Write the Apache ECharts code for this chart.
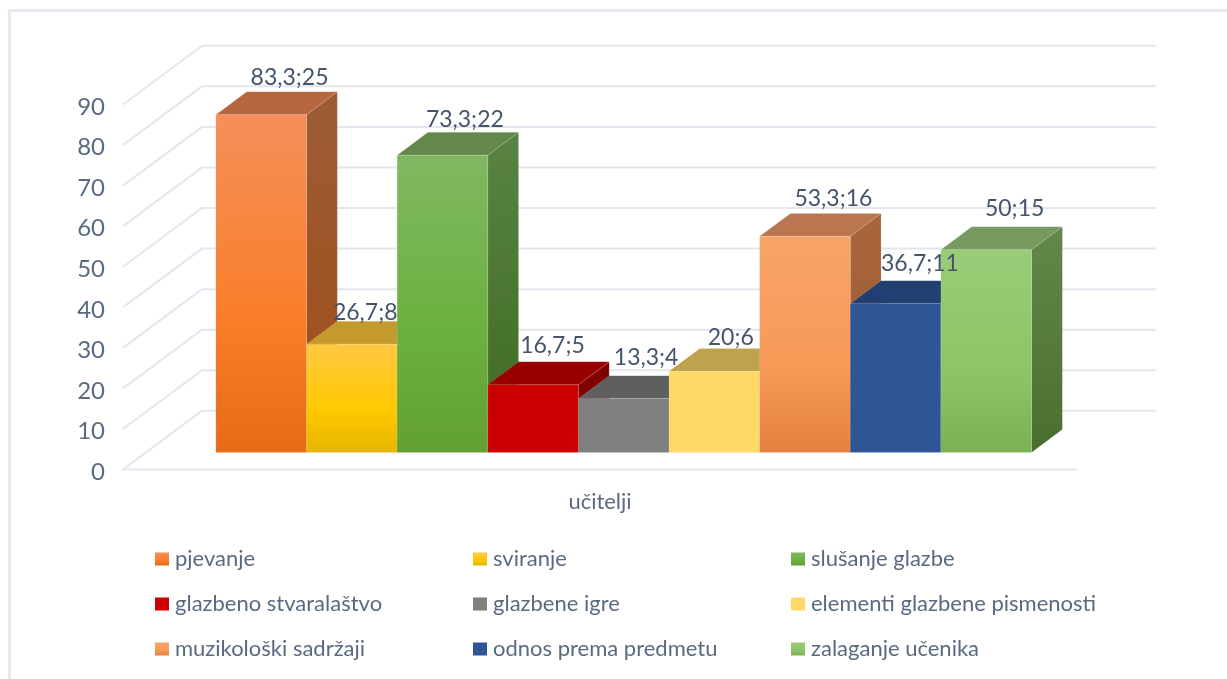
<!DOCTYPE html>
<html>
<head>
<meta charset="utf-8">
<style>html,body{margin:0;padding:0;background:#fff}#c{width:1227px;height:679px}</style>
<script src="https://cdn.jsdelivr.net/npm/echarts@6/dist/echarts.min.js"></script>
</head>
<body>
<div id="c"></div>
<script>
var categories = ['učitelji'];
var seriesNames = ['pjevanje','sviranje','slušanje glazbe','glazbeno stvaralaštvo','glazbene igre','elementi glazbene pismenosti','muzikološki sadržaji','odnos prema predmetu','zalaganje učenika'];
var percents = [83.3,26.7,73.3,16.7,13.3,20,53.3,36.7,50];
var counts = [25,8,22,5,4,6,16,11,15];
var yTicks = [0,10,20,30,40,50,60,70,80,90];

var frontStops = [
  ['#F58F5A','#F97E2A','#E56B17'],
  ['#FFC844','#FFC800','#E6B500'],
  ['#80B862','#6BB03E','#62A032'],
  ['#CC0000','#CC0000','#CC0000'],
  ['#7F7F7F','#7F7F7F','#7F7F7F'],
  ['#FFD966','#FFD966','#FFD966'],
  ['#F7A468','#F79A58','#E38040'],
  ['#2F5597','#2F5597','#2F5597'],
  ['#99CC78','#8DC565','#7CB052']
];
var topColors = ['#B5683F','#C49A2E','#64884B','#990000','#5F5F5F','#BFA24C','#BA7650','#223F72','#769A60'];
var sideStops = [
  ['#9C5C36','#A04E18'],['#A07A10','#8F7000'],['#5A8343','#3E6A20'],['#800000','#800000'],
  ['#5F5F5F','#5F5F5F'],['#BFA24C','#BFA24C'],['#A8653C','#A05A2C'],['#223F72','#223F72'],['#62884A','#4A6E2E']
];
var labelShift = [[6,0],[-9,6],[0,2],[-3,-2],[0,-4],[-6,4],[6,0],[2,-3],[6,-4]];

var DEPTH_X = 79, DEPTH_Y = 58.7;
var BAR_FRONT_X = 0.30, BAR_FRONT_Y = 0.29, BAR_DEPTH = 0.39, BAR_SHARE = 0.095;
var FONT = 'Lato, Carlito, sans-serif';

function vgrad(c){
  return new echarts.graphic.LinearGradient(0,0,0,1,[
    {offset:0,color:c[0]},{offset:0.6,color:c[1]},{offset:1,color:c[c.length-1]}
  ]);
}
function vgrad2(c){
  return new echarts.graphic.LinearGradient(0,0,0,1,[{offset:0,color:c[0]},{offset:1,color:c[1]}]);
}

function renderWall(params, api){
  var v = api.value(0);
  var band = api.size([1,0])[0];
  var p = api.coord([0,v]);
  var left = p[0]-band/2, right = p[0]+band/2, y = p[1];
  var pts = [[left,y],[left+DEPTH_X,y-DEPTH_Y],[right+DEPTH_X,y-DEPTH_Y]];
  if (v === 0) pts.unshift([right,y]);
  return {type:'polyline',shape:{points:pts},style:{stroke:'#E3E6EE',lineWidth:2,fill:'none'},silent:true};
}

function renderBar(params, api){
  var i = params.seriesIndex - 1;
  var band = api.size([1,0])[0];
  var w = band*BAR_SHARE;
  var base = api.coord([0,0]);
  var topP = api.coord([0,api.value(1)]);
  var ox = DEPTH_X*BAR_FRONT_X, oy = DEPTH_Y*BAR_FRONT_Y;
  var dx = DEPTH_X*BAR_DEPTH, dy = DEPTH_Y*BAR_DEPTH;
  var x0 = base[0]+ox + (i-4.5)*w, x1 = x0+w;
  var yB = base[1]-oy, yT = topP[1]-oy;
  var edge = 'rgba(255,255,255,0.12)';
  var z = i*2+1;
  return {type:'group',children:[
    {type:'polygon',z2:z,shape:{points:[[x1,yT],[x1+dx,yT-dy],[x1+dx,yB-dy],[x1,yB]]},
      style:{fill:vgrad2(sideStops[i]),stroke:edge,lineWidth:1}},
    {type:'polygon',z2:z,shape:{points:[[x0,yT],[x0+dx,yT-dy],[x1+dx,yT-dy],[x1,yT]]},
      style:{fill:topColors[i],stroke:edge,lineWidth:1}},
    {type:'rect',z2:z+1,shape:{x:x0,y:yT,width:w,height:yB-yT},
      style:{fill:vgrad(frontStops[i]),stroke:edge,lineWidth:1}},
    {type:'text',z2:100,style:{
      text:String(api.value(1)).replace('.',',')+';'+api.value(2),
      x:(x0+x1)/2+dx/2+7+labelShift[i][0],y:yT-dy-3+labelShift[i][1],
      align:'center',verticalAlign:'bottom',
      font:'23px '+FONT,fill:'#44546A'}}
  ]};
}

var series = [{
  type:'custom',name:'_walls',z:1,silent:true,renderItem:renderWall,
  data:yTicks.map(function(t){return [t];}),encode:{y:0}
}];
seriesNames.forEach(function(n,i){
  series.push({
    type:'custom',name:n,z:2,renderItem:renderBar,
    itemStyle:{color:vgrad(frontStops[i])},
    data:[[0,percents[i],counts[i]]],encode:{x:0,y:1}
  });
});

function legendCol(left, idx){
  return {
    orient:'vertical',left:left,top:548,itemWidth:14,itemHeight:13,itemGap:23,icon:'rect',
    selectedMode:false,padding:0,
    textStyle:{fontFamily:FONT,fontSize:22,color:'#5A6A80',padding:[0,0,0,1]},
    data:idx.map(function(k){return seriesNames[k];})
  };
}

var chart = echarts.init(document.getElementById('c'),null,{renderer:'canvas'});
chart.setOption({
  animation:false,
  backgroundColor:'#fff',
  grid:{left:123,right:150,top:104.5,bottom:209.5},
  xAxis:{type:'category',data:categories,axisLine:{show:false},axisTick:{show:false},splitLine:{show:false},
    axisLabel:{margin:21,fontFamily:FONT,fontSize:22,color:'#5A6A80'}},
  yAxis:{type:'value',min:0,max:90,interval:10,axisLine:{show:false},axisTick:{show:false},splitLine:{show:false},
    axisLabel:{margin:18,verticalAlign:'top',lineHeight:5,fontFamily:FONT,fontSize:24,color:'#5A6A80'}},
  legend:[legendCol(155,[0,3,6]),legendCol(473,[1,4,7]),legendCol(791,[2,5,8])],
  graphic:[{type:'polyline',silent:true,z:0,shape:{points:[[9.5,679],[9.5,10.5],[1227,10.5]]},
    style:{fill:'none',stroke:'#E4E9F2',lineWidth:3}}],
  series:series
});
</script>
</body>
</html>
